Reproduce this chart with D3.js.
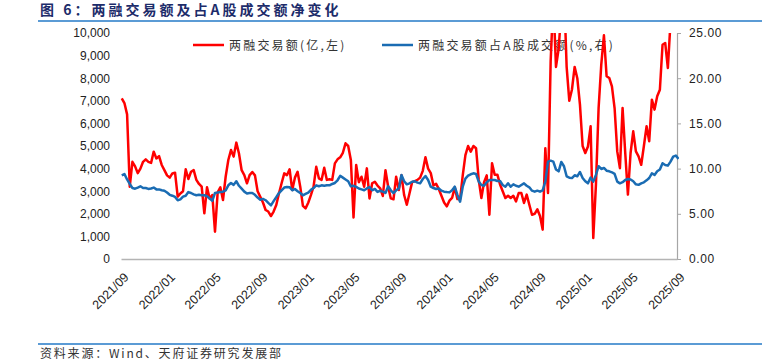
<!DOCTYPE html>
<html>
<head>
<meta charset="utf-8">
<script src="https://cdn.jsdelivr.net/npm/d3@7"></script>
<style>
  html, body { margin: 0; padding: 0; background: #fff; }
  #chart { width: 778px; height: 362px; }
</style>
</head>
<body>
<div id="chart"></div>
<script>
// weekly series, first week ending 2021-09-03
const firstWeek = new Date(2021, 8, 3);

// 两融交易额 (亿)
const marginVolume = [
  7110, 6900, 6400, 3200, 4300, 4100, 3800, 4000, 4300, 4410,
  4300, 4250, 4750, 4450, 4550, 4160, 3930, 3700, 3600, 3790,
  3820, 2760, 2900, 3000, 3970, 3540, 3860, 3930, 3500, 3320,
  3200, 2020, 3170, 2680, 2830, 1210, 2950, 3170, 2610, 3640,
  4380, 4820, 4530, 5150, 4670, 3930, 3710, 3350, 3710, 3850,
  3700, 3000, 2750, 2500, 2170, 2100, 1900, 2100, 2390, 2900,
  3350, 3790, 3710, 3970, 3050, 3600, 3860, 3200, 2350, 2240,
  2490, 2830, 3200, 4080, 3570, 3500, 4040, 3500, 3530, 3500,
  4230, 4410, 4500, 4700, 5120, 5000, 4380, 1840, 4160, 3400,
  3640, 3200, 4010, 2680, 3350, 3420, 3250, 3130, 2790, 3930,
  3200, 2680, 2640, 3640, 3050, 3710, 2830, 2400, 2900, 3400,
  3450, 3500, 3600, 3900, 4500, 4000, 3800, 3250, 3330, 3100,
  2800, 2500, 2330, 2580, 2700, 3170, 2650, 2650, 3700, 4600,
  5000, 4750, 5000, 4900, 3500, 2700, 3400, 3700, 1960, 4240,
  3730, 3730, 3300, 3000, 2700, 2800, 2700, 2800, 2550, 2920,
  2920, 2480, 2850, 2400, 1960, 2000, 2200, 1900, 1300, 4900,
  2920, 8750, 11500, 8500, 9300, 11000, 12000, 8500, 7000, 7500,
  8500, 8000, 6830, 5000, 4690, 4980, 5870, 930, 3290, 6680,
  8600, 9900, 8090, 8010, 7640, 6680, 4760, 4020, 6680, 4690,
  2850, 4690, 5650, 4760, 4540, 4170, 5000, 5870, 5210, 7050,
  6610, 7200, 7490, 9480, 9560, 8450, 10500, 11500, 12000, 12500
];

// 两融交易额占A股成交额 (%)
const marginShare = [
  9.26, 9.4, 8.8, 8.3, 7.85, 7.78, 7.9, 8.04, 7.85, 7.85,
  7.75, 7.8, 7.9, 7.7, 7.7, 7.6, 7.55, 7.35, 7.1, 7.0,
  6.86, 6.5, 6.6, 6.9, 7.0, 7.4, 7.3, 7.15, 7.05, 7.1,
  7.05, 7.05, 6.95, 6.7, 6.45, 7.3, 7.35, 7.42, 7.45, 7.6,
  8.15, 8.4, 8.2, 8.6, 8.1, 7.78, 7.45, 7.25, 7.3, 7.3,
  7.1, 6.8, 6.56, 6.65, 6.5, 6.2, 5.93, 6.4, 6.85, 7.3,
  7.6, 7.9, 7.97, 7.95, 7.6, 7.75, 7.5, 7.3, 7.05, 7.2,
  7.35, 7.65, 7.85, 8.15, 8.05, 8.15, 8.1, 8.15, 8.15, 8.3,
  8.41, 8.71, 9.2, 9.0, 8.8, 8.6, 8.04, 8.1, 7.97, 7.8,
  7.7, 7.6, 7.8, 7.95, 7.6, 7.75, 7.42, 7.55, 7.45, 7.3,
  8.04, 7.6, 7.3, 7.6, 7.8, 9.3, 8.6, 8.26, 8.37, 8.55,
  8.6, 8.45, 8.37, 8.85, 9.18, 8.74, 8.0, 7.85, 7.74, 7.8,
  7.56, 7.45, 7.4, 7.37, 7.6, 8.0, 7.08, 6.34, 8.0, 8.9,
  9.22, 9.37, 9.48, 9.4, 8.56, 8.19, 8.11, 8.48, 8.74, 8.74,
  8.74, 8.63, 8.63, 8.19, 8.0, 8.37, 8.0, 8.26, 8.1, 8.0,
  8.19, 8.37, 8.1, 7.93, 7.56, 7.45, 7.56, 7.45, 7.6, 8.56,
  10.77, 10.88, 10.77, 9.9, 9.7, 10.74, 10.26, 9.15, 9.0, 8.96,
  9.26, 9.15, 9.63, 8.96, 8.6, 8.37, 9.0, 8.56, 9.3, 10.26,
  9.96, 10.07, 9.77, 9.7, 9.59, 9.41, 8.56, 8.37, 8.5, 8.74,
  8.85, 8.8, 8.6, 8.26, 8.2, 8.37, 8.48, 8.7, 8.96, 9.48,
  9.3, 9.7, 9.9, 10.59, 10.4, 10.33, 10.77, 11.33, 11.44, 11.07
];

const leftTicks = [0, 1000, 2000, 3000, 4000, 5000, 6000, 7000, 8000, 9000, 10000];
const rightTicks = [0, 5, 10, 15, 20, 25];
const seriesNames = ['两融交易额(亿,左)', '两融交易额占A股成交额(%,右)'];
const titleText = '图 6：两融交易额及占A股成交额净变化';
const sourceText = '资料来源：Wind、天府证券研究发展部';

const width = 778, height = 362;
const plot = { left: 121, right: 677, top: 33, bottom: 259 };

const svg = d3.select('#chart').append('svg')
  .attr('width', width)
  .attr('height', height)
  .style('font-family', '"Liberation Sans", Arial, sans-serif');

const rows = marginVolume.map((v, i) => ({
  date: d3.timeDay.offset(firstWeek, i * 7),
  vol: v,
  share: marginShare[i]
}));

const x = d3.scaleTime()
  .domain([new Date(2021, 8, 1), new Date(2025, 8, 1)])
  .range([plot.left, plot.right]);
const yL = d3.scaleLinear().domain([0, 10000]).range([plot.bottom, plot.top]);
const yR = d3.scaleLinear().domain([0, 25]).range([plot.bottom, plot.top]);

// title + rules
svg.append('text')
  .attr('x', 40).attr('y', 15)
  .attr('font-family', '"Noto Sans CJK SC", sans-serif')
  .attr('font-weight', 'bold')
  .attr('font-size', 14)
  .attr('letter-spacing', 3)
  .attr('fill', '#1d2c6a')
  .text(titleText);

svg.append('line')
  .attr('x1', 38).attr('x2', 762).attr('y1', 21).attr('y2', 21)
  .attr('stroke', '#5b9bd5').attr('stroke-width', 2);

svg.append('line')
  .attr('x1', 38).attr('x2', 762).attr('y1', 344).attr('y2', 344)
  .attr('stroke', '#5b9bd5').attr('stroke-width', 2);

svg.append('text')
  .attr('x', 40).attr('y', 358)
  .attr('font-family', '"Noto Sans CJK SC", sans-serif')
  .attr('font-size', 12)
  .attr('letter-spacing', 1.8)
  .attr('fill', '#333')
  .text(sourceText);

// left axis (labels only)
const gL = svg.append('g')
  .attr('transform', `translate(${plot.left},0)`)
  .call(d3.axisLeft(yL).tickValues(leftTicks).tickSize(0).tickPadding(11).tickFormat(d3.format(',')));
gL.select('.domain').remove();
gL.selectAll('text').attr('font-size', 12).attr('fill', '#222').attr('font-family', '"Liberation Sans", Arial, sans-serif');

// right axis
const gR = svg.append('g')
  .attr('transform', `translate(${plot.right},0)`)
  .call(d3.axisRight(yR).tickValues(rightTicks).tickSize(4).tickSizeOuter(0).tickPadding(8).tickFormat(d3.format('.2f')));
gR.select('.domain').attr('stroke', '#a6a6a6').attr('stroke-width', 1.2);
gR.selectAll('line').attr('stroke', '#a6a6a6');
gR.selectAll('text').attr('font-size', 12).attr('fill', '#222').attr('letter-spacing', 0.6)
  .attr('font-family', '"Liberation Sans", Arial, sans-serif');

// bottom axis
const gX = svg.append('g')
  .attr('transform', `translate(0,${plot.bottom})`)
  .call(d3.axisBottom(x).ticks(d3.timeMonth.every(4)).tickSize(0).tickFormat(d3.timeFormat('%Y/%m')));
gX.select('.domain').attr('stroke', '#b4b4b4').attr('stroke-width', 1.5);
gX.selectAll('text')
  .attr('font-size', 12.5)
  .attr('fill', '#222')
  .attr('font-family', '"Liberation Sans", Arial, sans-serif')
  .attr('text-anchor', 'end')
  .attr('dy', null)
  .attr('y', 0)
  .attr('transform', 'translate(8,19) rotate(-45)');

// legend (sits under the lines)
const legend = svg.append('g')
  .attr('font-family', '"Noto Sans CJK SC", sans-serif')
  .attr('font-size', 12)
  .attr('letter-spacing', 2.2)
  .attr('fill', '#333');
const legendItems = [
  { name: seriesNames[0], color: '#ff0000', x: 193 },
  { name: seriesNames[1], color: '#1a6cb3', x: 382 }
];
legendItems.forEach(d => {
  legend.append('line')
    .attr('x1', d.x).attr('x2', d.x + 31).attr('y1', 45).attr('y2', 45)
    .attr('stroke', d.color).attr('stroke-width', 2.5);
  legend.append('text')
    .attr('x', d.x + 36).attr('y', 49.5)
    .text(d.name);
});

// lines
svg.append('clipPath').attr('id', 'plot-clip')
  .append('rect')
  .attr('x', plot.left - 2).attr('y', plot.top)
  .attr('width', plot.right - plot.left + 4).attr('height', plot.bottom - plot.top);

const lines = svg.append('g').attr('clip-path', 'url(#plot-clip)');

lines.append('path')
  .datum(rows)
  .attr('fill', 'none')
  .attr('stroke', '#ff0000')
  .attr('stroke-width', 2.5)
  .attr('stroke-linejoin', 'round')
  .attr('d', d3.line().x(d => x(d.date)).y(d => yL(d.vol)));

lines.append('path')
  .datum(rows)
  .attr('fill', 'none')
  .attr('stroke', '#1a6cb3')
  .attr('stroke-width', 2.5)
  .attr('stroke-linejoin', 'round')
  .attr('d', d3.line().x(d => x(d.date)).y(d => yR(d.share)));
</script>
</body>
</html>
